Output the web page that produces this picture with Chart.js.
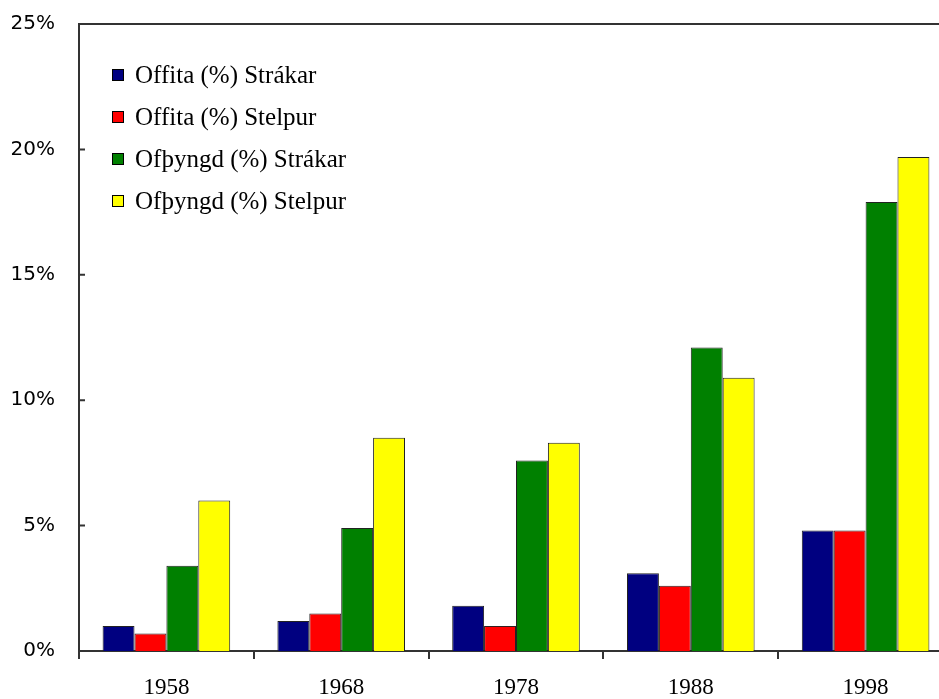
<!DOCTYPE html>
<html>
<head>
<meta charset="utf-8">
<script src="https://cdn.jsdelivr.net/npm/chart.js@4/dist/chart.umd.min.js"></script>
<style>
    html, body { margin: 0; padding: 0; background: #fff; overflow: hidden; }
    #wrap { width: 960px; height: 699px; }
</style>
</head>
<body>
<div id="wrap"><canvas id="chart" width="960" height="699"></canvas></div>
<script>
// Ár (flokkar)
const years = ['1958', '1968', '1978', '1988', '1998'];

// Gildi í prósentum, lesin af myndinni
const offitaStrakar = [1.0, 1.2, 1.8, 3.1, 4.8];
const offitaStelpur = [0.7, 1.5, 1.0, 2.6, 4.8];
const ofthyngdStrakar = [3.4, 4.9, 7.6, 12.1, 17.9];
const ofthyngdStelpur = [6.0, 8.5, 8.3, 10.9, 19.7];

const seriesLabels = ['Offita (%) Strákar', 'Offita (%) Stelpur', 'Ofþyngd (%) Strákar', 'Ofþyngd (%) Stelpur'];
const seriesColors = ['#000080', '#ff0000', '#008000', '#ffff00'];

const yTicks = [0, 5, 10, 15, 20, 25];

const axisColor = '#333';

// Rammi: efri lína og innvísandi merki á y-ás
const framePlugin = {
    id: 'frame',
    afterDraw(chart) {
        const { ctx, chartArea: a, scales: { y } } = chart;
        ctx.save();
        ctx.strokeStyle = axisColor;
        ctx.lineWidth = 2;
        ctx.beginPath();
        ctx.moveTo(a.left, a.top);
        ctx.lineTo(a.right, a.top);
        ctx.lineTo(a.right, a.bottom);
        y.ticks.forEach((t, i) => {
            const py = y.getPixelForTick(i);
            ctx.moveTo(a.left, py);
            ctx.lineTo(a.left + 6, py);
        });
        ctx.stroke();
        ctx.restore();
    }
};

// Skýringar inni í teiknisvæðinu
const legendPlugin = {
    id: 'innerLegend',
    afterDraw(chart) {
        const { ctx, chartArea: a } = chart;
        ctx.save();
        ctx.font = '25px "Liberation Serif"';
        ctx.textBaseline = 'middle';
        chart.data.datasets.forEach((ds, i) => {
            const cy = a.top + 51 + i * 42;
            const bx = a.left + 33;
            ctx.fillStyle = ds.backgroundColor;
            ctx.fillRect(bx, cy - 6, 12, 12);
            ctx.strokeStyle = '#000';
            ctx.lineWidth = 1;
            ctx.strokeRect(bx + 0.5, cy - 5.5, 11, 11);
            ctx.fillStyle = '#000';
            ctx.fillText(ds.label, a.left + 56, cy + 1);
        });
        ctx.restore();
    }
};

const seriesValues = [offitaStrakar, offitaStelpur, ofthyngdStrakar, ofthyngdStelpur];

new Chart(document.getElementById('chart'), {
    type: 'bar',
    data: {
        labels: years,
        datasets: seriesValues.map((values, i) => ({
            label: seriesLabels[i],
            data: values,
            backgroundColor: seriesColors[i],
            borderColor: '#222',
            borderWidth: 1,
            categoryPercentage: 0.73,
            barPercentage: 1.0
        }))
    },
    options: {
        responsive: false,
        animation: false,
        layout: { padding: { left: 0, top: 24, right: 7, bottom: 0 } },
        plugins: {
            legend: { display: false },
            tooltip: { enabled: false }
        },
        scales: {
            x: {
                grid: {
                    offset: true,
                    drawOnChartArea: false,
                    drawTicks: true,
                    tickLength: 8,
                    color: axisColor,
                    lineWidth: 2
                },
                border: { display: true, color: axisColor, width: 2 },
                ticks: {
                    color: '#000',
                    padding: 15,
                    font: { family: '"Liberation Serif"', size: 23 }
                },
                afterFit(scale) { scale.height = 48; }
            },
            y: {
                min: 0,
                max: 25,
                afterBuildTicks(scale) {
                    scale.ticks = yTicks.map(v => ({ value: v }));
                },
                grid: { display: false, drawTicks: false },
                border: { display: true, color: axisColor, width: 2 },
                ticks: {
                    color: '#000',
                    padding: 24,
                    font: { family: '"DejaVu Sans"', size: 20 },
                    callback: v => v + '%'
                },
                afterFit(scale) {
                    scale.width = 79;
                    scale.paddingTop = 0;
                    scale.paddingBottom = 0;
                }
            }
        }
    },
    plugins: [framePlugin, legendPlugin]
});
</script>
</body>
</html>
